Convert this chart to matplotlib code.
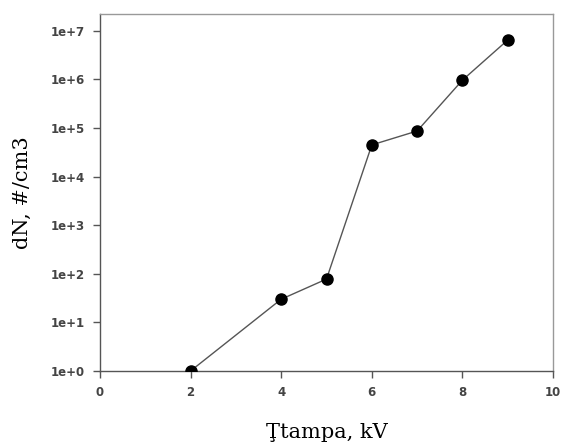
import matplotlib
matplotlib.use("Agg")
import matplotlib.pyplot as plt
from matplotlib.ticker import FixedLocator, FixedFormatter

# data
voltage_kv = [2, 4, 5, 6, 7, 8, 9]
dn_per_cm3 = [1.0, 30, 78, 4.5e4, 8.7e4, 9.7e5, 6.5e6]

x_ticks = [0, 2, 4, 6, 8, 10]
y_ticks = [1e0, 1e1, 1e2, 1e3, 1e4, 1e5, 1e6, 1e7]
y_tick_labels = ['1e+0', '1e+1', '1e+2', '1e+3', '1e+4', '1e+5', '1e+6', '1e+7']

fig = plt.figure(figsize=(5.61, 4.47), dpi=100)
ax = fig.add_axes([0.178, 0.170, 0.808, 0.799])

ax.plot(voltage_kv, dn_per_cm3, color='#555555', lw=1.0,
        marker='o', markersize=8, markerfacecolor='black',
        markeredgecolor='black', zorder=3)

ax.set_yscale('log')
ax.set_xlim(0, 10)
ax.set_ylim(1, 10 ** 7.35)

ax.xaxis.set_major_locator(FixedLocator(x_ticks))
ax.yaxis.set_major_locator(FixedLocator(y_ticks))
ax.yaxis.set_major_formatter(FixedFormatter(y_tick_labels))
ax.yaxis.set_minor_locator(FixedLocator([]))

for s in ax.spines.values():
    s.set_color('#999999')
    s.set_linewidth(1.0)
ax.spines['left'].set_color('#555555')
ax.spines['bottom'].set_color('#555555')

ax.tick_params(direction='out', length=5, width=1, color='#555555',
               labelsize=8.5, labelcolor='#444444', pad=6)
for lab in ax.get_xticklabels() + ax.get_yticklabels():
    lab.set_fontweight('bold')
    lab.set_family('DejaVu Sans')

ax.set_xlabel('Ţtampa, kV', family='DejaVu Serif', fontsize=15, labelpad=17)
ax.set_ylabel('dN, #/cm3', family='DejaVu Serif', fontsize=15, labelpad=13)

fig.savefig('out.png', dpi=100)
